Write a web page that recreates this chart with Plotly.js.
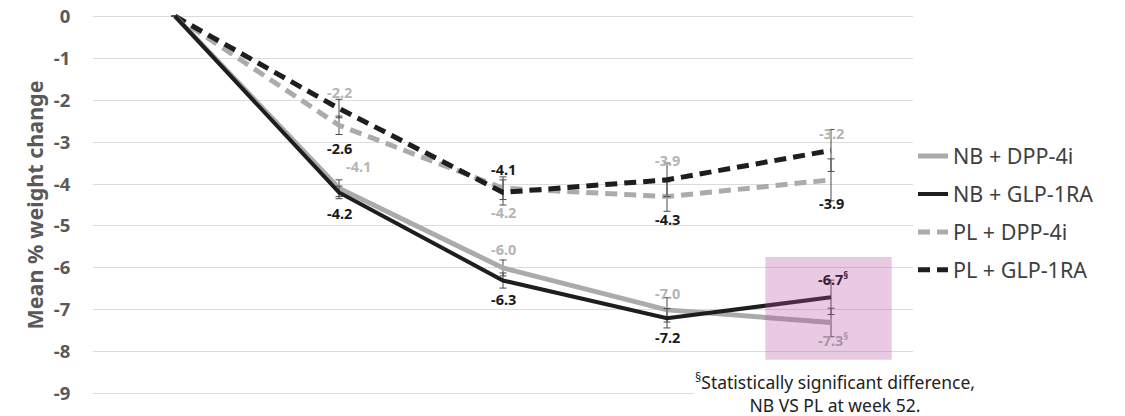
<!DOCTYPE html>
<html>
<head>
<meta charset="utf-8">
<script src="https://cdn.plot.ly/plotly-3.0.1.min.js"></script>
<style>
  html, body { margin: 0; padding: 0; background: #fff; }
  #chart { width: 1125px; height: 416px; }
</style>
</head>
<body>
<div id="chart"></div>
<script>
// Visits along the x axis (labels are hidden on the axis)
const visits = ['Baseline', 'Visit 1', 'Visit 2', 'Visit 3', 'Week 52'];

// Y axis ticks, written with a plain hyphen
const yTickValues = [0, -1, -2, -3, -4, -5, -6, -7, -8, -9];
const yTickLabels = ['0', '-1', '-2', '-3', '-4', '-5', '-6', '-7', '-8', '-9'];

// Mean % weight change per treatment arm
const nbDpp = [0, -4.1, -6.0, -7.0, -7.3];
const nbGlp = [0, -4.2, -6.3, -7.2, -6.7];
const plDpp = [0, -2.6, -4.1, -4.3, -3.9];
const plGlp = [0, -2.2, -4.2, -3.9, -3.2];

// Error bar half-widths
const nbDppErr = [0, 0.2, 0.19, 0.29, 0.34];
const nbGlpErr = [0, 0.15, 0.18, 0.23, 0.41];
const plDppErr = [0, 0.22, 0.27, 0.35, 0.5];
const plGlpErr = [0, 0.22, 0.3, 0.4, 0.5];

// NB points with a significant NB vs PL difference
const nbSignificant = [false, false, false, false, true];
const plSignificant = [false, false, false, false, false];

const seriesNames = ['NB + DPP-4i', 'NB + GLP-1RA', 'PL + DPP-4i', 'PL + GLP-1RA'];

const footnote = '<sup>§</sup>Statistically significant difference,<br>NB VS PL at week 52.';

const GREY = '#ababab';
const BLACK = '#1e1e1e';
const LABEL_GREY = '#b5b5b5';
const LABEL_BLACK = '#1a1a1a';
const FONT = 'Noto Sans, Open Sans, sans-serif';

function trace(name, y, err, color, width, dash, rank) {
  return {
    type: 'scatter', mode: 'lines', name: name, x: visits, y: y,
    line: { color: color, width: width, dash: dash },
    error_y: { type: 'data', array: err, visible: true, color: '#4a4a4a', thickness: 1, width: 3.5 },
    legendrank: rank, legendgroup: name, hoverinfo: 'skip'
  };
}

const traces = [
  trace(seriesNames[2], plDpp, plDppErr, GREY, 5, '12px,7px', 3),
  trace(seriesNames[3], plGlp, plGlpErr, BLACK, 5, '12px,7px', 4),
  trace(seriesNames[0], nbDpp, nbDppErr, GREY, 5, 'solid', 1),
  trace(seriesNames[1], nbGlp, nbGlpErr, BLACK, 4, 'solid', 2)
];

// Value labels: vertical/horizontal pixel offsets and colours per point
function valueLabels(values, sig, yshift, xshift, colors) {
  const out = [];
  for (let i = 1; i < values.length; i++) {
    out.push({
      x: visits[i], y: values[i], xref: 'x', yref: 'y', showarrow: false,
      text: values[i].toFixed(1) + (sig[i] ? '<sup>§</sup>' : ''),
      yshift: yshift[i], xshift: xshift[i],
      font: { family: FONT, size: 14.5, color: colors[i], weight: 700 }
    });
  }
  return out;
}

const annotations = [].concat(
  valueLabels(plGlp, plSignificant, [0, 17, -20, 20, 17], [0, 0, 0, 0, 0],
    [null, LABEL_GREY, LABEL_GREY, LABEL_GREY, LABEL_GREY]),
  valueLabels(plDpp, plSignificant, [0, -23, 19, -22, -23], [0, 0, 0, 0, 0],
    [null, LABEL_BLACK, LABEL_BLACK, LABEL_BLACK, LABEL_BLACK]),
  valueLabels(nbDpp, nbSignificant, [0, 22, 19, 17, -17], [0, 19, 0, 0, 2],
    [null, LABEL_GREY, LABEL_GREY, LABEL_GREY, '#a993a6']),
  valueLabels(nbGlp, nbSignificant, [0, -21, -18, -19, 19], [0, 0, 0, 0, 2],
    [null, LABEL_BLACK, LABEL_BLACK, LABEL_BLACK, '#3a1d37']),
  [
    { xref: 'paper', yref: 'paper', x: 0.905, xanchor: 'center', y: 0.014, yanchor: 'middle',
      showarrow: false, text: footnote, bgcolor: '#ffffff', borderpad: 0,
      font: { family: FONT, size: 17.5, color: '#222' } }
  ]
);

const layout = {
  width: 1125, height: 416,
  margin: { l: 93, r: 212, t: 12, b: 18 },
  paper_bgcolor: '#fff', plot_bgcolor: '#fff',
  showlegend: true,
  legend: {
    x: 1.0, xanchor: 'left', y: 0.68, yanchor: 'top',
    traceorder: 'grouped', tracegroupgap: 7, itemwidth: 30,
    font: { family: FONT, size: 21.5, color: '#404040' }
  },
  xaxis: {
    type: 'category', range: [-0.5, 4.5], showticklabels: false,
    showgrid: false, zeroline: false, showline: false, ticks: ''
  },
  yaxis: {
    range: [-9.1, 0.1], tickmode: 'array', tickvals: yTickValues, ticktext: yTickLabels,
    showgrid: true, gridcolor: '#dcdcdc', gridwidth: 1, zeroline: false,
    ticks: 'outside', ticklen: 18, tickcolor: 'rgba(0,0,0,0)',
    tickfont: { family: FONT, size: 18.5, color: '#595959', weight: 700 },
    title: { text: 'Mean % weight change', standoff: 4,
      font: { family: FONT, size: 21.5, color: '#595959', weight: 700 } }
  },
  shapes: [{
    type: 'rect', xref: 'x', yref: 'y', x0: 3.6, x1: 4.37, y0: -5.74, y1: -8.19,
    fillcolor: 'rgba(178,80,163,0.3)', line: { width: 0 }, layer: 'above'
  }],
  annotations: annotations
};

Plotly.newPlot('chart', traces, layout, { displayModeBar: false, staticPlot: true });
</script>
</body>
</html>
